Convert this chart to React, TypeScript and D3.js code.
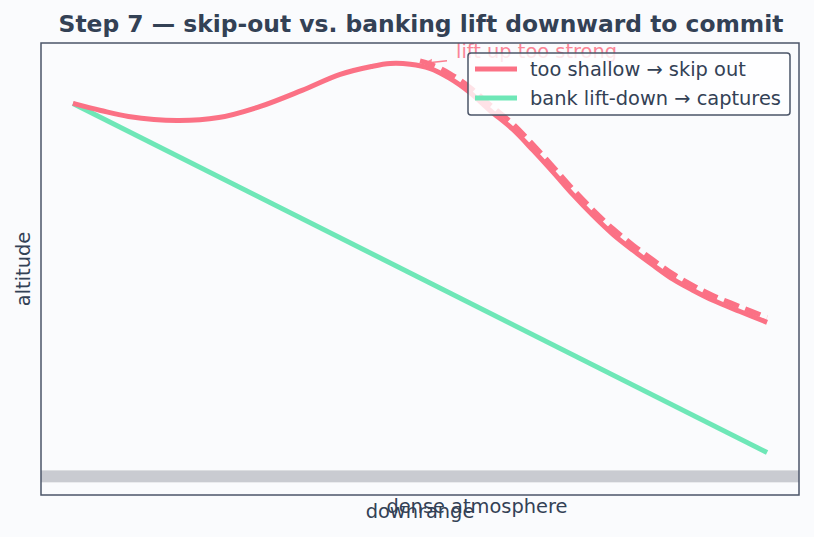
import React, { useEffect, useRef } from "react";
import * as d3 from "d3";

// downrange positions (arbitrary units) and altitudes
const skipX = [0, 4, 8, 15, 21, 27, 33, 38.5, 43, 45.7, 48.6, 51.4, 54.3, 57.2, 60.1, 63.4, 66.3, 69.2, 72, 74.9, 77.8, 80.7, 83.6, 86.5, 89.3, 92.2, 96.1, 100];
const skipAlt = [100, 98.1, 96.5, 95.4, 96.2, 99.2, 103.5, 107.8, 109.9, 110.7, 110.5, 109.4, 106.7, 102.9, 98.1, 93.0, 87.4, 81.5, 75.6, 70.0, 64.9, 60.6, 56.6, 52.8, 49.9, 47.2, 44.2, 41.3];
const dashX = [50, 51.4, 54.3, 57.2, 60.1, 63.4, 66.3, 69.2, 72, 74.9, 77.8, 80.7, 83.6, 86.5, 89.3, 92.2, 96.1, 100];
const dashAlt = [111.4, 110.6, 108.0, 104.3, 99.6, 94.5, 88.9, 83.0, 77.1, 71.5, 66.4, 62.0, 58.0, 54.2, 51.2, 48.5, 45.5, 42.6];
const bankX = [0, 100];
const bankAlt = [100, 6.4];
const atmosphereBand = [-1.6, 1.6];

const seriesNames = ["too shallow → skip out", "bank lift-down → captures"];
const colors = ["#fb7185", "#6ee7b7"];

const W = 814, H = 537;

export default function App() {
  const ref = useRef<SVGSVGElement>(null);

  useEffect(() => {
    const svg = d3.select(ref.current);
    svg.selectAll("*").remove();

    const margin = { top: 43, right: 15, bottom: 42, left: 41 };
    const x = d3.scaleLinear().domain([-4.6, 104.6]).range([margin.left, W - margin.right]);
    const y = d3.scaleLinear().domain([-5, 116.2]).range([H - margin.bottom, margin.top]);
    const font = "'DejaVu Sans', sans-serif";
    const ink = "#334155";
    const fs = 19.4;

    svg.append("rect").attr("width", W).attr("height", H).attr("fill", "#fafbfd");

    // axes area
    svg.append("clipPath").attr("id", "plot")
      .append("rect")
      .attr("x", x.range()[0]).attr("y", y.range()[1])
      .attr("width", x.range()[1] - x.range()[0])
      .attr("height", y.range()[0] - y.range()[1]);
    const g = svg.append("g").attr("clip-path", "url(#plot)");

    g.append("rect")
      .attr("x", x.range()[0])
      .attr("width", x.range()[1] - x.range()[0])
      .attr("y", y(atmosphereBand[1]))
      .attr("height", y(atmosphereBand[0]) - y(atmosphereBand[1]))
      .attr("fill", "#c9cbd1");

    const line = d3.line<[number, number]>()
      .x(d => x(d[0]))
      .y(d => y(d[1]))
      .curve(d3.curveCatmullRom.alpha(0.5));

    g.append("path")
      .datum(bankX.map((v, i) => [v, bankAlt[i]] as [number, number]))
      .attr("d", line)
      .attr("fill", "none")
      .attr("stroke", colors[1])
      .attr("stroke-width", 5);

    g.append("path")
      .datum(skipX.map((v, i) => [v, skipAlt[i]] as [number, number]))
      .attr("d", line)
      .attr("fill", "none")
      .attr("stroke", colors[0])
      .attr("stroke-width", 5);

    g.append("path")
      .datum(dashX.map((v, i) => [v, dashAlt[i]] as [number, number]))
      .attr("d", line)
      .attr("fill", "none")
      .attr("stroke", colors[0])
      .attr("stroke-width", 5)
      .attr("stroke-dasharray", "16 7");

    // annotation
    const ax = 50, ay = 110.4;
    const tipX = x(ax) + 3, tipY = y(ay) - 1;
    const fromX = tipX + 24, fromY = tipY - 3;
    g.append("line")
      .attr("x1", fromX).attr("y1", fromY).attr("x2", tipX + 6).attr("y2", tipY - 1)
      .attr("stroke", colors[0]).attr("stroke-width", 1.5).attr("opacity", 0.9);
    g.append("path")
      .attr("d", `M${tipX},${tipY} L${tipX + 9},${tipY - 5} L${tipX + 8},${tipY + 2} Z`)
      .attr("fill", colors[0]).attr("opacity", 0.9);
    svg.append("text")
      .attr("x", fromX + 9).attr("y", y(ay) - 7)
      .attr("font-family", font).attr("font-size", fs)
      .attr("fill", colors[0]).attr("opacity", 0.85)
      .text("lift up too strong");

    // spines
    svg.append("rect")
      .attr("x", x.range()[0]).attr("y", y.range()[1])
      .attr("width", x.range()[1] - x.range()[0])
      .attr("height", y.range()[0] - y.range()[1])
      .attr("fill", "none").attr("stroke", "#4b5568").attr("stroke-width", 1.5);

    // legend
    const lg = svg.append("g").attr("transform", "translate(468,53)");
    lg.append("rect")
      .attr("width", 322).attr("height", 62).attr("rx", 3)
      .attr("fill", "#ffffff").attr("fill-opacity", 0.8)
      .attr("stroke", "#4b5568").attr("stroke-width", 1.5);
    seriesNames.forEach((name, i) => {
      const cy = 16 + i * 29;
      lg.append("line")
        .attr("x1", 7).attr("x2", 49).attr("y1", cy).attr("y2", cy)
        .attr("stroke", colors[i]).attr("stroke-width", 5);
      lg.append("text")
        .attr("x", 62).attr("y", cy + 7)
        .attr("font-family", font).attr("font-size", fs)
        .attr("fill", ink).text(name);
    });

    // labels
    svg.append("text")
      .attr("x", 421).attr("y", 32)
      .attr("text-anchor", "middle")
      .attr("font-family", font).attr("font-size", 23.4).attr("font-weight", "bold")
      .attr("fill", ink)
      .text("Step 7 — skip-out vs. banking lift downward to commit");
    svg.append("text")
      .attr("x", (x.range()[0] + x.range()[1]) / 2).attr("y", 518)
      .attr("text-anchor", "middle")
      .attr("font-family", font).attr("font-size", fs)
      .attr("fill", ink).text("downrange");
    svg.append("text")
      .attr("transform", `translate(30,${(y.range()[0] + y.range()[1]) / 2}) rotate(-90)`)
      .attr("text-anchor", "middle")
      .attr("font-family", font).attr("font-size", fs)
      .attr("fill", ink).text("altitude");
    svg.append("text")
      .attr("x", x(58.2)).attr("y", 512.5)
      .attr("text-anchor", "middle")
      .attr("font-family", font).attr("font-size", fs)
      .attr("fill", ink).text("dense atmosphere");
  }, []);

  return (
    <svg
      ref={ref}
      width={W}
      height={H}
      style={{ position: "absolute", left: 0, top: 0 }}
    />
  );
}
